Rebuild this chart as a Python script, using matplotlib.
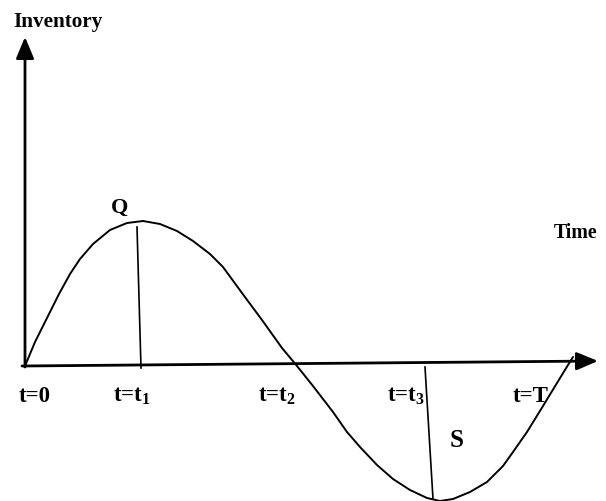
import matplotlib
matplotlib.use("Agg")
import matplotlib.pyplot as plt

plt.rcParams['font.family'] = 'Liberation Serif'
plt.rcParams['mathtext.fontset'] = 'custom'
plt.rcParams['mathtext.bf'] = 'Liberation Serif:bold'
plt.rcParams['mathtext.rm'] = 'Liberation Serif:bold'

# inventory level over time
time = [0, 10, 23, 34, 45, 55, 68, 85, 102, 118, 135, 152, 168, 185, 198, 217,
        237, 257, 272, 288, 308, 322, 335, 352, 368, 385, 402, 415, 428, 445,
        462, 478, 488, 502, 518, 532, 543, 548]
inventory = [0, 24, 50, 72, 92, 107, 122, 136, 143, 145, 142, 135, 125, 112, 99,
             73, 46, 18, 0, -20, -46, -66, -81, -99, -113, -124, -132, -135,
             -133, -126, -116, -100, -86, -66, -40, -17, 1, 9]

# the two drop lines (at t1 and t3)
drop_x = [(112, 116), (400, 408)]
drop_y = [(139, -2), (-1, -133)]

tick_labels = ['t=0', r't=$\mathbf{t_1}$', r't=$\mathbf{t_2}$', r't=$\mathbf{t_3}$', 't=T']
tick_pos = [10, 107, 252, 381, 506]

fig = plt.figure(figsize=(6.06, 5.02), dpi=100)
ax = fig.add_axes([0, 0, 1, 1])
ax.set_xlim(-25, 581)
ax.set_ylim(-135, 367)
ax.axis('off')

# axes drawn as arrows
arrow = dict(arrowstyle='-|>,head_length=1.0,head_width=0.42', color='black',
             lw=2.0, shrinkA=0, shrinkB=0, mutation_scale=13)
ax.annotate('', xy=(0, 329), xytext=(0, -1), arrowprops=arrow)
ax.annotate('', xy=(573, 5), xytext=(-3, 0), arrowprops=arrow)

ax.plot(time, inventory, color='black', lw=1.4, solid_joinstyle='round',
        solid_capstyle='round', clip_on=False)
for xs, ys in zip(drop_x, drop_y):
    ax.plot(xs, ys, color='black', lw=1.2, clip_on=False)

for lab, x in zip(tick_labels, tick_pos):
    ax.text(x, -35, lab, ha='center', va='baseline', fontsize=16.5, fontweight='bold')

ax.text(33, 340, 'Inventory', ha='center', va='baseline', fontsize=15.2, fontweight='bold')
ax.text(551, 129, 'Time', ha='center', va='baseline', fontsize=14.3, fontweight='bold')
ax.text(95, 154, 'Q', ha='center', va='baseline', fontsize=16, fontweight='bold')
ax.text(432, -80, 'S', ha='center', va='baseline', fontsize=18, fontweight='bold')

fig.savefig('out.png', dpi=100)
